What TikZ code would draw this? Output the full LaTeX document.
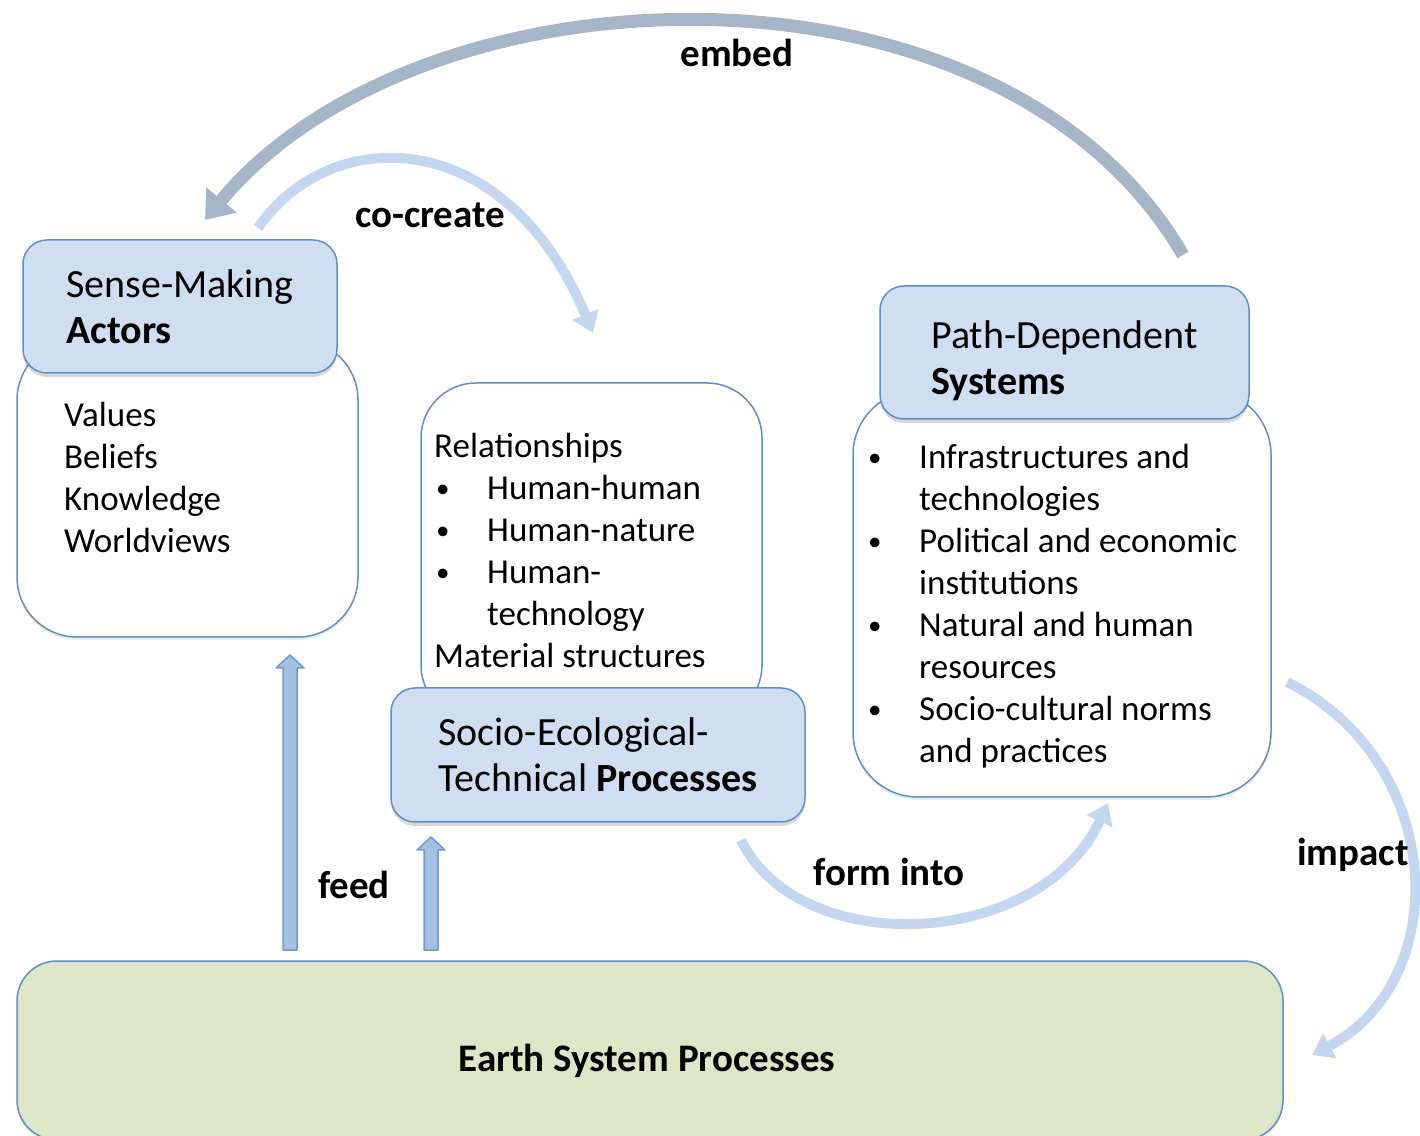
\documentclass[tikz,border=0pt]{standalone}
\usepackage{fontspec}
\setmainfont{Carlito}
\usetikzlibrary{arrows.meta,shadows}
\definecolor{headfill}{RGB}{207,223,241}
\definecolor{boxline}{RGB}{96,142,202}
\definecolor{earthfill}{RGB}{221,230,199}
\definecolor{feedfill}{RGB}{166,192,225}
\definecolor{feedline}{RGB}{111,155,211}
\definecolor{embedgray}{RGB}{167,181,200}
\definecolor{arclight}{RGB}{197,214,240}
\newcommand{\listbullet}{\makebox[53pt][l]{\hspace*{2pt}\raisebox{2pt}{\fontsize{27}{27}\selectfont\textbullet}}}
\newcommand{\listindent}{\hspace*{53pt}}

\begin{document}
\begin{tikzpicture}[x=1pt,y=1pt,
  every node/.style={inner sep=0pt},
  head/.style={draw=boxline, fill=headfill, line width=1.5pt,
    rounded corners=24pt, align=left, font=\fontsize{40}{46}\selectfont,
    drop shadow={shadow xshift=0pt, shadow yshift=-4pt, opacity=0.3}},
  body/.style={draw=boxline, fill=white, line width=1.5pt,
    drop shadow={shadow xshift=0pt, shadow yshift=-3pt, opacity=0.15}},
  listtext/.style={align=left, anchor=west, font=\fontsize{35}{42}\selectfont},
  tag/.style={font=\fontsize{39}{46}\selectfont\bfseries},
  bendarr/.style={line width=10pt, arclight, -{Triangle[width=27pt,length=20pt]}},
  embedarr/.style={line width=13pt, embedgray, -{Triangle[width=38pt,length=26pt]}},
  feedarr/.style={draw=feedline, fill=feedfill, line width=1.5pt, line join=round},
]
\useasboundingbox (0,0) rectangle (1420,1135);

% boxes
\node[body, rounded corners=60pt, minimum width=341pt, minimum height=297pt]
  at (187.5,646.5) (actbody) {};
\node[listtext] at (64,657.5) (actlist) {Values\\Beliefs\\Knowledge\\Worldviews};
\node[head, minimum width=314pt, minimum height=133pt] at (180,828.5) (acthead)
  {Sense-Making\\\textbf{Actors}};

\node[body, rounded corners=55pt, minimum width=341pt, minimum height=337pt]
  at (591.5,583.5) (relbody) {};
\node[listtext] at (434,585) (rellist) {Relationships\\
  \listbullet Human-human\\
  \listbullet Human-nature\\
  \listbullet Human-\\
  \listindent technology\\
  Material structures};
\node[head, minimum width=414pt, minimum height=134pt] at (598,380) (sethead)
  {Socio-Ecological-\\Technical \textbf{Processes}};

\node[body, rounded corners=65pt, minimum width=418pt, minimum height=407pt]
  at (1062,541.5) (pdbody) {};
\node[listtext] at (866,529) (pdlist) {\listbullet Infrastructures and\\
  \listindent technologies\\
  \listbullet Political and economic\\
  \listindent institutions\\
  \listbullet Natural and human\\
  \listindent resources\\
  \listbullet Socio-cultural norms\\
  \listindent and practices};
\node[head, minimum width=369pt, minimum height=133pt, text height=90pt] at (1064.5,782.5) (pdhead)
  {Path-Dependent\\\textbf{Systems}};

\node[body, fill=earthfill, rounded corners=40pt, minimum width=1266pt, minimum height=179pt]
  at (650,84.5) (earth) {};
\node[tag] at (647,74) (earthtext) {Earth System Processes};

% arrow ends
\coordinate (embedS) at (1183,880);
\coordinate (embedE) at (205,915);
\coordinate (cocrS) at (258,907);
\coordinate (cocrE) at (593,802);
\coordinate (formS) at (741,295);
\coordinate (formE) at (1108,332);
\coordinate (impS) at (1287,453);
\coordinate (impE) at (1312,80);
\coordinate (feedA) at (290,185);
\coordinate (feedB) at (431,185);

\draw[embedarr] (embedS) .. controls (1000,1195) and (420,1175) .. (embedE);
\draw[bendarr] (cocrS) .. controls (330,1012) and (505,1012) .. (cocrE);
\draw[bendarr] (formS) .. controls (800,175) and (1040,185) .. (formE);
\draw[bendarr] (impS) .. controls (1445,375) and (1455,155) .. (impE);

\draw[feedarr] ([xshift=-7pt]feedA) -- ++(0,282) -- ++(-7,0) -- ++(14,13)
  -- ++(14,-13) -- ++(-7,0) -- ++(0,-282) -- cycle;
\draw[feedarr] ([xshift=-7pt]feedB) -- ++(0,100) -- ++(-7,0) -- ++(14,13)
  -- ++(14,-13) -- ++(-7,0) -- ++(0,-100) -- cycle;

% labels
\node[tag] at (737,1082) (embedlbl) {embed};
\node[tag] at (430,920) (cocrlbl) {co-create};
\node[tag] at (889,263) (formlbl) {form into};
\node[tag] at (1353,280) (implbl) {impact};
\node[tag] at (354,250) (feedlbl) {feed};
\end{tikzpicture}
\end{document}
